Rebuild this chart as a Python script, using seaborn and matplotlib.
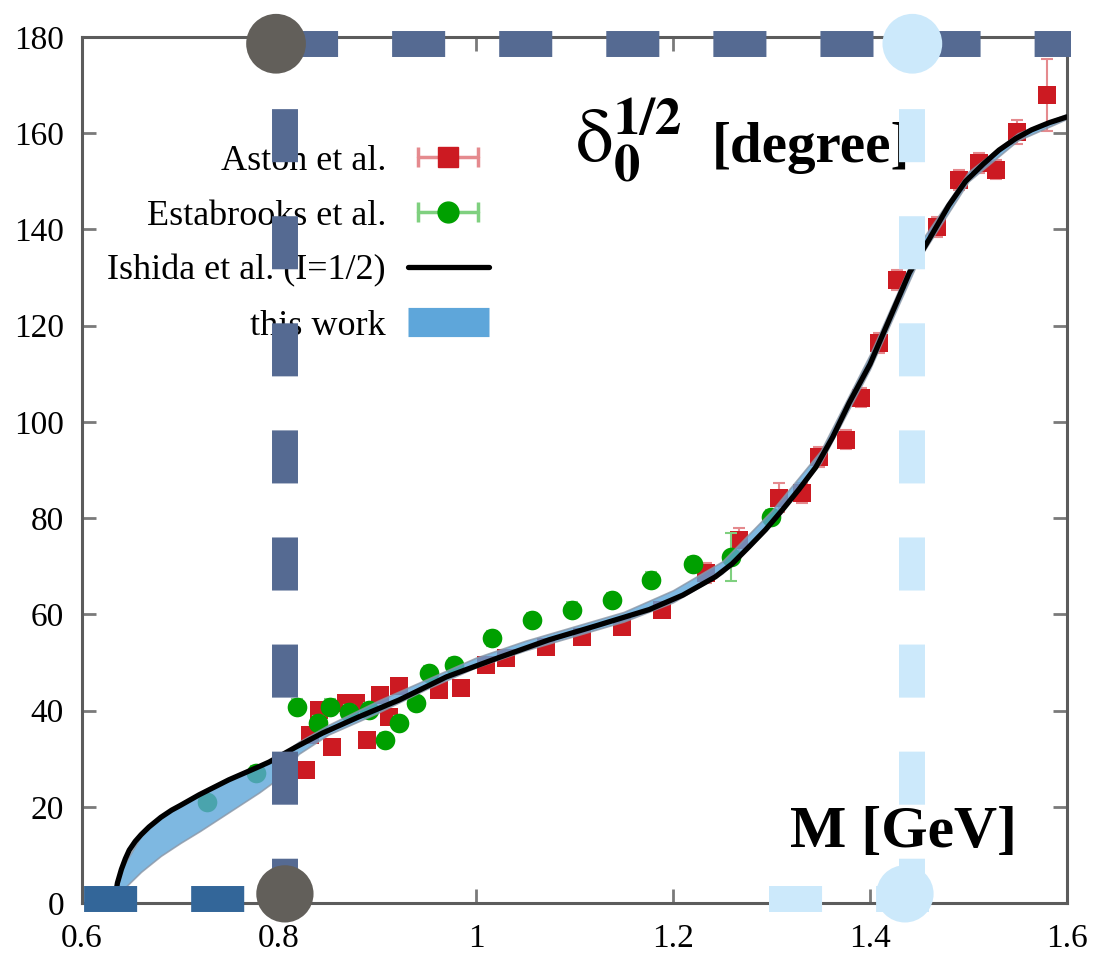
import matplotlib
matplotlib.use("Agg")
import matplotlib.pyplot as plt
import seaborn as sns
from matplotlib.lines import Line2D
from matplotlib.legend_handler import HandlerLine2D, HandlerTuple

sns.set_theme(style="white")
plt.rcParams["font.family"] = ["Liberation Serif", "DejaVu Serif"]
plt.rcParams["mathtext.fontset"] = "stix"
plt.rcParams["lines.scale_dashes"] = False
plt.rcParams["text.color"] = "black"
plt.rcParams["xtick.color"] = "black"
plt.rcParams["ytick.color"] = "black"

# ---------------- data ----------------
aston_m = [0.827, 0.831, 0.841, 0.854, 0.868, 0.878, 0.889, 0.903, 0.912, 0.922, 0.962,
           0.985, 1.010, 1.030, 1.071, 1.108, 1.148, 1.189, 1.233, 1.267, 1.308, 1.331,
           1.348, 1.376, 1.391, 1.409, 1.427, 1.468, 1.490, 1.511, 1.528, 1.549, 1.580]
aston_d = [27.6, 35.0, 40.1, 32.4, 41.6, 41.6, 33.9, 43.2, 38.7, 45.0, 44.3,
           44.7, 49.5, 51.0, 53.2, 55.3, 57.4, 61.0, 68.6, 75.5, 84.2, 85.2,
           92.7, 96.3, 105.0, 116.4, 129.5, 140.5, 150.3, 153.8, 152.4, 160.3, 168.0]
aston_err = [1.5, 1.5, 1.5, 1.5, 1.5, 1.5, 1.5, 1.5, 1.5, 1.5, 1.5,
             1.5, 1.5, 1.5, 1.5, 1.5, 1.5, 1.5, 2.0, 2.5, 3.0, 2.0,
             2.0, 2.0, 2.0, 2.0, 2.0, 2.0, 2.0, 2.0, 2.0, 2.5, 7.5]

estab_m = [0.727, 0.777, 0.818, 0.840, 0.852, 0.871, 0.891, 0.908, 0.922, 0.939,
           0.952, 0.978, 1.016, 1.057, 1.097, 1.138, 1.178, 1.220, 1.259, 1.299]
estab_d = [21.0, 27.0, 40.8, 37.4, 40.8, 39.7, 40.1, 33.9, 37.4, 41.6,
           47.8, 49.5, 55.0, 58.8, 61.0, 63.0, 67.2, 70.5, 72.0, 80.2]
estab_err = [1.5, 1.5, 1.5, 1.5, 1.5, 1.5, 1.5, 1.5, 1.5, 1.5,
             1.5, 1.5, 1.5, 1.5, 1.5, 1.5, 1.5, 1.5, 5.0, 1.5]

ishida_m = [0.633, 0.634, 0.636, 0.640, 0.644, 0.648, 0.654, 0.660, 0.668, 0.680, 0.691,
            0.700, 0.719, 0.749, 0.777, 0.790, 0.817, 0.844, 0.880, 0.922, 0.970, 1.023,
            1.074, 1.120, 1.176, 1.210, 1.243, 1.260, 1.277, 1.294, 1.311, 1.328, 1.345,
            1.362, 1.379, 1.400, 1.419, 1.440, 1.463, 1.480, 1.497, 1.515, 1.531, 1.548,
            1.564, 1.582, 1.600]
ishida_d = [0.0, 1.8, 4.2, 7.0, 9.2, 11.0, 12.8, 14.2, 15.8, 17.8, 19.3,
            20.3, 22.5, 25.6, 28.1, 29.3, 32.4, 35.3, 38.6, 42.2, 47.0, 51.0,
            54.7, 57.5, 61.0, 64.0, 67.8, 70.5, 74.0, 77.6, 81.7, 86.0, 90.6,
            96.8, 104.0, 112.0, 121.0, 131.0, 139.0, 145.0, 150.0, 153.6, 156.5, 158.9,
            160.7, 162.2, 163.4]

this_m = [0.633, 0.640, 0.660, 0.680, 0.700, 0.720, 0.750, 0.780, 0.800, 0.820, 0.850,
          0.900, 0.950, 1.000, 1.050, 1.100, 1.150, 1.200, 1.250, 1.300, 1.350, 1.400,
          1.450, 1.500, 1.550, 1.600]
this_lo = [0.0, 2.5, 6.5, 9.8, 12.5, 15.0, 19.0, 23.0, 26.0, 31.0, 35.0,
           39.5, 44.5, 49.0, 52.5, 55.5, 58.5, 62.5, 68.5, 79.0, 91.5, 111.0,
           134.0, 150.0, 158.5, 163.0]
this_hi = [0.5, 7.0, 14.0, 17.8, 20.3, 22.6, 25.7, 28.4, 30.5, 33.5, 37.0,
           42.0, 46.5, 51.0, 54.5, 57.5, 60.5, 65.0, 71.0, 81.5, 94.0, 114.0,
           137.0, 152.0, 160.0, 164.0]

xtick_vals = [0.6, 0.8, 1.0, 1.2, 1.4, 1.6]
xtick_labels = ["0.6", "0.8", "1", "1.2", "1.4", "1.6"]
ytick_vals = [0, 20, 40, 60, 80, 100, 120, 140, 160, 180]

legend_labels = ["Aston et al.", "Estabrooks et al.", "Ishida et al. (I=1/2)", "this work"]

# overlay guide marks (dashed lines and dots)
guide_left_x = 0.806
guide_right_x = 1.443
guide_top_y = 178.6
guide_bottom_y = 1.9
top_line_x = [0.797, 1.604]
bottom_dark_x = [0.600, 0.806]
bottom_light_x = [1.2975, 1.460]
bottom_line_y = 0.85
dot_top_x = [0.797, 1.443]
dot_bottom_x = [0.806, 1.4355]

# ---------------- figure ----------------
fig = plt.figure(figsize=(10.97, 9.57), dpi=100)
ax = fig.add_axes([0.07475, 0.05643, 0.8979, 0.9049])

red = "#cc1a22"
red_light = "#e58a8e"
green = "#00a000"
green_light = "#7fd07f"
band_col = "#5ea6da"

# data points
ax.errorbar(aston_m, aston_d, yerr=aston_err, fmt="none", ecolor=red_light,
            elinewidth=1.5, capsize=4, capthick=1.5, zorder=2)
sns.scatterplot(x=aston_m, y=aston_d, marker="s", s=175, color=red, edgecolor=red,
                linewidth=0, ax=ax, zorder=2.1, legend=False)
ax.errorbar(estab_m, estab_d, yerr=estab_err, fmt="none", ecolor=green_light,
            elinewidth=1.5, capsize=4, capthick=1.5, zorder=2.2)
sns.scatterplot(x=estab_m, y=estab_d, marker="o", s=200, color=green, edgecolor=green,
                linewidth=0, ax=ax, zorder=2.3, legend=False)

# this work band
ax.fill_between(this_m, this_lo, this_hi, color=band_col, alpha=0.8, lw=1.2,
                edgecolor="#8a96a6", zorder=2.5)

# Ishida curve
sns.lineplot(x=ishida_m, y=ishida_d, color="black", lw=3.8, ax=ax, sort=False,
             estimator=None, zorder=3)

# axes
ax.set_xlim(0.6, 1.6)
ax.set_ylim(0, 180)
ax.set_xticks(xtick_vals)
ax.set_xticklabels(xtick_labels)
ax.set_yticks(ytick_vals)
for sp in ax.spines.values():
    sp.set_color("#5c5c5c")
    sp.set_linewidth(2.2)
    sp.set_visible(True)
ax.tick_params(axis="both", which="both", direction="in", length=10, width=2,
               color="#7a7a7a", top=True, right=True, bottom=True, left=True,
               labelsize=24, labelcolor="black")
ax.tick_params(axis="y", pad=13)
ax.tick_params(axis="x", pad=15)
ax.grid(False)

# labels inside plot
ax.text(0.5005, 0.856, r"$\mathrm{\delta}_\mathbf{0}^\mathbf{1/2}$", transform=ax.transAxes,
        fontsize=54, ha="left", va="baseline", color="black", zorder=3)
ax.text(0.6395, 0.856, "[degree]", transform=ax.transAxes,
        fontsize=41, fontweight="bold", ha="left", va="baseline", color="black", zorder=3)
ax.text(0.719, 0.0647, "M [GeV]", transform=ax.transAxes,
        fontsize=43, fontweight="bold", ha="left", va="baseline", color="black", zorder=3)

# legend
cap_red = Line2D([], [], color=red_light, lw=2.5, marker="|", markersize=14, mew=2.5)
sq_red = Line2D([], [], ls="none", marker="s", markersize=15, color=red)
cap_green = Line2D([], [], color=green_light, lw=2.5, marker="|", markersize=14, mew=2.5)
dot_green = Line2D([], [], ls="none", marker="o", markersize=15, color=green)
h_black = Line2D([], [], color="black", lw=3.8)
h_band = Line2D([], [], color=band_col, lw=21, solid_capstyle="butt")
leg = ax.legend([(cap_red, sq_red), (cap_green, dot_green), h_black, h_band], legend_labels,
                handler_map={cap_red: HandlerLine2D(numpoints=2),
                             cap_green: HandlerLine2D(numpoints=2),
                             tuple: HandlerTuple(ndivide=1)},
                numpoints=1, markerfirst=False, frameon=False, loc="upper right",
                bbox_to_anchor=(0.413, 0.876), borderpad=0, borderaxespad=0,
                handlelength=2.25, handletextpad=0.6, labelspacing=0.6,
                prop={"family": "Liberation Serif", "size": 26})
leg.set_zorder(4)
for t in leg.get_texts():
    t.set_color("black")

# overlay dashed guides
dash_on, dash_off = 38.2, 38.9
ax.plot(top_line_x, [guide_top_y, guide_top_y], color="#556a92", lw=18.7,
        ls=(70.6, (dash_on, dash_off)), solid_capstyle="butt", dash_capstyle="butt",
        clip_on=False, zorder=6)
ax.plot([guide_left_x, guide_left_x], [guide_top_y, guide_bottom_y], color="#556a92", lw=18.7,
        ls=(30.2, (dash_on, dash_off)), dash_capstyle="butt", clip_on=False, zorder=6)
ax.plot([guide_right_x, guide_right_x], [guide_top_y, guide_bottom_y], color="#cce9fb", lw=18.7,
        ls=(30.2, (dash_on, dash_off)), dash_capstyle="butt", clip_on=False, zorder=6)
ax.plot(bottom_dark_x, [bottom_line_y, bottom_line_y], color="#336699", lw=18.7,
        ls=(75.6, (dash_on, dash_off)), dash_capstyle="butt", clip_on=False, zorder=6)
ax.plot(bottom_light_x, [bottom_line_y, bottom_line_y], color="#cce9fb", lw=18.7,
        ls=(0, (dash_on, dash_off)), dash_capstyle="butt", clip_on=False, zorder=6)

ax.scatter(dot_top_x, [guide_top_y, guide_top_y], s=1850, c=["#625f5a", "#cce9fb"],
           linewidths=0, clip_on=False, zorder=7)
ax.scatter(dot_bottom_x, [guide_bottom_y, guide_bottom_y], s=1700, c=["#625f5a", "#cce9fb"],
           linewidths=0, clip_on=False, zorder=7)

fig.savefig("out.png", dpi=100)
